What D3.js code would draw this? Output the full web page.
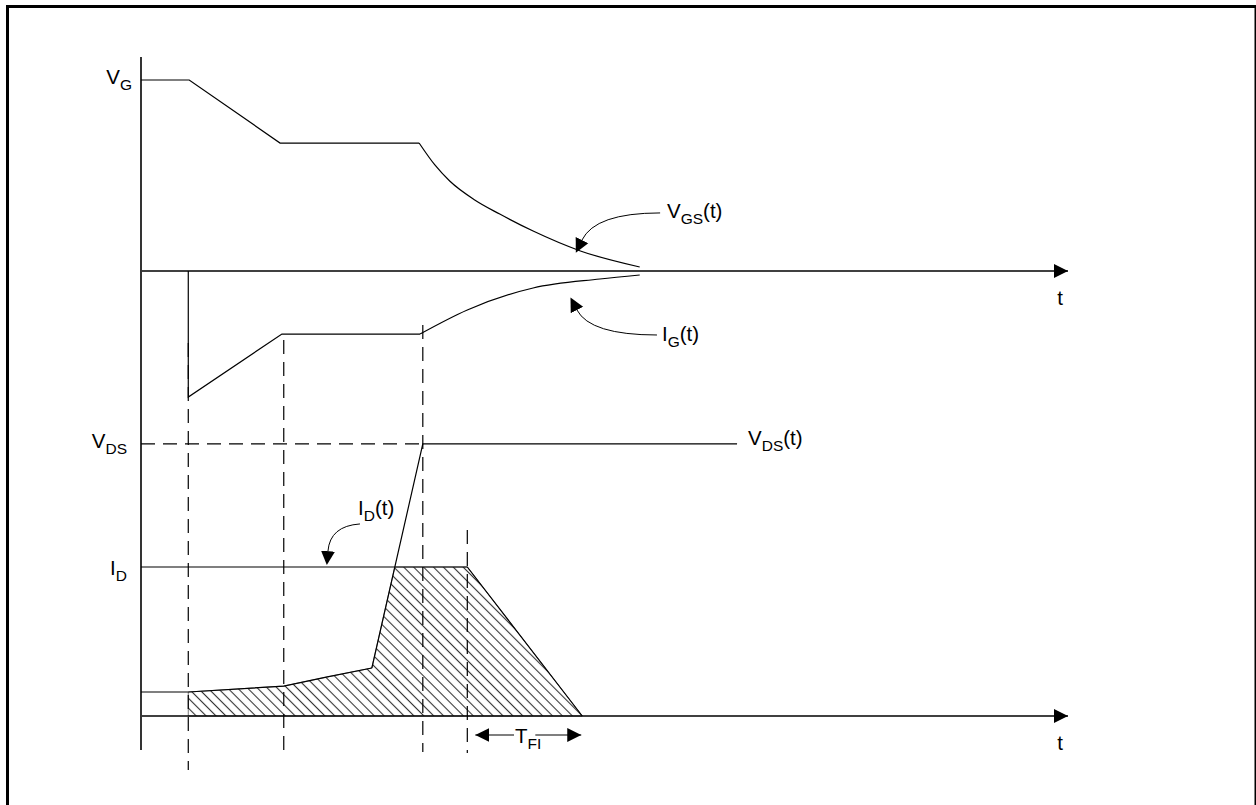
<!DOCTYPE html>
<html><head><meta charset="utf-8">
<script src="https://cdn.jsdelivr.net/npm/d3@7"></script>
<style>
html,body{margin:0;padding:0;background:#fff;}
svg{display:block;}
text{font-family:"Liberation Sans", Arial, Helvetica, sans-serif; fill:#000;}
</style></head><body>
<svg id="c" width="1256" height="805"></svg>
<script>
// ---- data (time in arbitrary units: 0 = vertical axis, 100 = arrow tip) ----
const markerTimes = [5.1, 15.4, 30.4, 35.2];          // dashed event lines
const vgsT = [0, 5.2, 15.0, 30.0];                    // V_GS piecewise-linear part
const vgsV = [1, 1, 0.67, 0.67];
const vgsDecayT = [30.0, 31.7, 33.3, 36.0, 38.7, 42.3, 47.4, 53.8];   // V_GS decay
const vgsDecayV = [0.67, 0.555, 0.471, 0.372, 0.298, 0.209, 0.105, 0.021];
const igT = [5.1, 5.1, 15.2, 30.1];                   // I_G piecewise-linear part
const igV = [0, -0.66, -0.33, -0.33];
const igRiseT = [30.1, 35.2, 42.3, 49.5, 53.8];       // I_G recovery
const igRiseV = [-0.33, -0.204, -0.089, -0.042, -0.021];
const leakT = [0, 5.1, 15.4, 20.1, 24.9];             // low current before rise
const leakV = [0.161, 0.161, 0.201, 0.262, 0.322];
const vdsT = [24.9, 30.4, 64.3];                      // V_DS(t)
const vdsV = [0.322, 1.826, 1.826];
const idT = [0, 35.2, 47.6];                          // I_D(t)
const idV = [1, 1, 0];
const vdsLevel = 1.826;
const tfiRange = [35.2, 47.6];

// annotation curves [start, control, end] in data units
const annVgs = [[56.0, 0.304], [49.0, 0.304], [47.57, 0.162]];
const annIg  = [[55.66, -0.335], [48.44, -0.335], [47.03, -0.204]];
const annId  = [[23.62, 1.289], [20.39, 1.275], [20.17, 1.107]];

// ---- scales ----
const x = d3.scaleLinear().domain([0, 100]).range([141, 1068]);
const yTop = d3.scaleLinear().domain([0, 1]).range([271, 80]);
const yBot = d3.scaleLinear().domain([0, 1]).range([716, 567]);

const svg = d3.select("#c");
const defs = svg.append("defs");
function marker(id, refX) {
  defs.append("marker").attr("id", id).attr("markerUnits", "userSpaceOnUse")
    .attr("markerWidth", 16).attr("markerHeight", 16)
    .attr("viewBox", "0 -8 16 16").attr("refX", refX).attr("refY", 0)
    .attr("orient", "auto-start-reverse")
    .append("path").attr("d", "M0,-7L14,0L0,7Z").attr("fill", "#000");
}
marker("tip", 14);
marker("base", 0);
const pat = defs.append("pattern").attr("id", "hatch").attr("patternUnits", "userSpaceOnUse")
  .attr("width", 7).attr("height", 7).attr("patternTransform", "rotate(45)");
pat.append("line").attr("x1", -1).attr("x2", 8).attr("y1", 3.5).attr("y2", 3.5)
  .attr("stroke", "#333").attr("stroke-width", 1.1);

// frame
svg.append("rect").attr("x", 7.5).attr("y", 6.5).attr("width", 1248.5).attr("height", 810)
  .attr("fill", "none").attr("stroke", "#000").attr("stroke-width", 3);

const zip = (a, b) => a.map((d, i) => [d, b[i]]);
const lineTop = d3.line().x(d => x(d[0])).y(d => yTop(d[1]));
const lineBot = d3.line().x(d => x(d[0])).y(d => yBot(d[1]));
const curveTop = d3.line().x(d => x(d[0])).y(d => yTop(d[1])).curve(d3.curveMonotoneX);

// hatched area (energy loss)
const kT = vdsT[0] + (1 - vdsV[0]) / (vdsV[1] - vdsV[0]) * (vdsT[1] - vdsT[0]);
const hatchPts = zip(leakT, leakV).filter(d => d[0] >= markerTimes[0])
  .concat([[kT, 1], [idT[1], idV[1]], [idT[2], idV[2]]]);
svg.append("path")
  .datum(hatchPts)
  .attr("d", d3.area().x(d => x(d[0])).y0(yBot(0)).y1(d => yBot(d[1])))
  .attr("fill", "url(#hatch)").attr("stroke", "#555").attr("stroke-width", 0.8);

// dashed event lines
const dashExtent = [[343, 770], [340, 758], [325, 752], [530, 753]];
svg.selectAll("line.ev").data(markerTimes).join("line").attr("class", "ev")
  .attr("x1", d => x(d)).attr("x2", d => x(d))
  .attr("y1", (d, i) => dashExtent[i][0]).attr("y2", (d, i) => dashExtent[i][1])
  .attr("stroke", "#000").attr("stroke-width", 1.2).attr("stroke-dasharray", "14,8");
// V_DS dashed level
svg.append("line").attr("x1", x(0)).attr("x2", x(vdsT[1]))
  .attr("y1", yBot(vdsLevel)).attr("y2", yBot(vdsLevel))
  .attr("stroke", "#000").attr("stroke-width", 1.2).attr("stroke-dasharray", "14,8");

// axes
svg.append("line").attr("x1", x(0)).attr("x2", x(0)).attr("y1", 57).attr("y2", 750)
  .attr("stroke", "#000").attr("stroke-width", 1.6);
[yTop(0), yBot(0)].forEach(yy => {
  svg.append("line").attr("x1", x(0) + 1).attr("x2", x(100)).attr("y1", yy).attr("y2", yy)
    .attr("stroke", "#000").attr("stroke-width", 1.6).attr("marker-end", "url(#tip)");
});

const sig = { fill: "none", stroke: "#000", "stroke-width": 1.2 };
function drawPath(d) {
  const p = svg.append("path").attr("d", d);
  Object.entries(sig).forEach(([k, v]) => p.attr(k, v));
  return p;
}
drawPath(lineTop(zip(vgsT, vgsV)));
drawPath(curveTop(zip(vgsDecayT, vgsDecayV)));
drawPath(lineTop(zip(igT, igV)));
drawPath(curveTop(zip(igRiseT, igRiseV)));
drawPath(lineBot(zip(leakT, leakV)));
drawPath(lineBot(zip(vdsT, vdsV)));
drawPath(lineBot(zip(idT, idV)));

// annotation arrows
function ann(pts, ys) {
  const p = pts.map(d => [x(d[0]), ys(d[1])]);
  drawPath(`M${p[0]}Q${p[1]} ${p[2]}`).attr("stroke-width", 1).attr("marker-end", "url(#base)");
}
ann(annVgs, yTop); ann(annIg, yTop); ann(annId, yBot);

// labels with subscripts
function label(px, py, main, sub, rest, anchor) {
  const t = svg.append("text").attr("x", px).attr("y", py).attr("font-size", 20.5)
    .attr("text-anchor", anchor || "start");
  t.append("tspan").text(main);
  if (sub) t.append("tspan").attr("dy", 6).attr("font-size", 15.5).text(sub);
  if (rest) t.append("tspan").attr("dy", -6).text(rest);
  return t;
}
label(132, 84, "V", "G", "", "end");
label(667, 218, "V", "GS", "(t)");
label(662, 341, "I", "G", "(t)");
label(127, 448, "V", "DS", "", "end");
label(748, 445, "V", "DS", "(t)");
label(358, 515, "I", "D", "(t)");
label(127, 575, "I", "D", "", "end");
label(1060, 305, "t", "", "", "middle");
label(1060, 750, "t", "", "", "middle");

// T_FI double arrow
const tfi = label(515, 743, "T", "FI", "");
const bb = tfi.node().getBBox();
const ay = 735;
svg.append("line").attr("x1", x(tfiRange[0]) + 8).attr("x2", bb.x - 1).attr("y1", ay).attr("y2", ay)
  .attr("stroke", "#000").attr("stroke-width", 1.2).attr("marker-start", "url(#tip)");
svg.append("line").attr("x1", bb.x + bb.width - 6).attr("x2", x(tfiRange[1]) - 1).attr("y1", ay).attr("y2", ay)
  .attr("stroke", "#000").attr("stroke-width", 1.2).attr("marker-end", "url(#tip)");
</script></body></html>
